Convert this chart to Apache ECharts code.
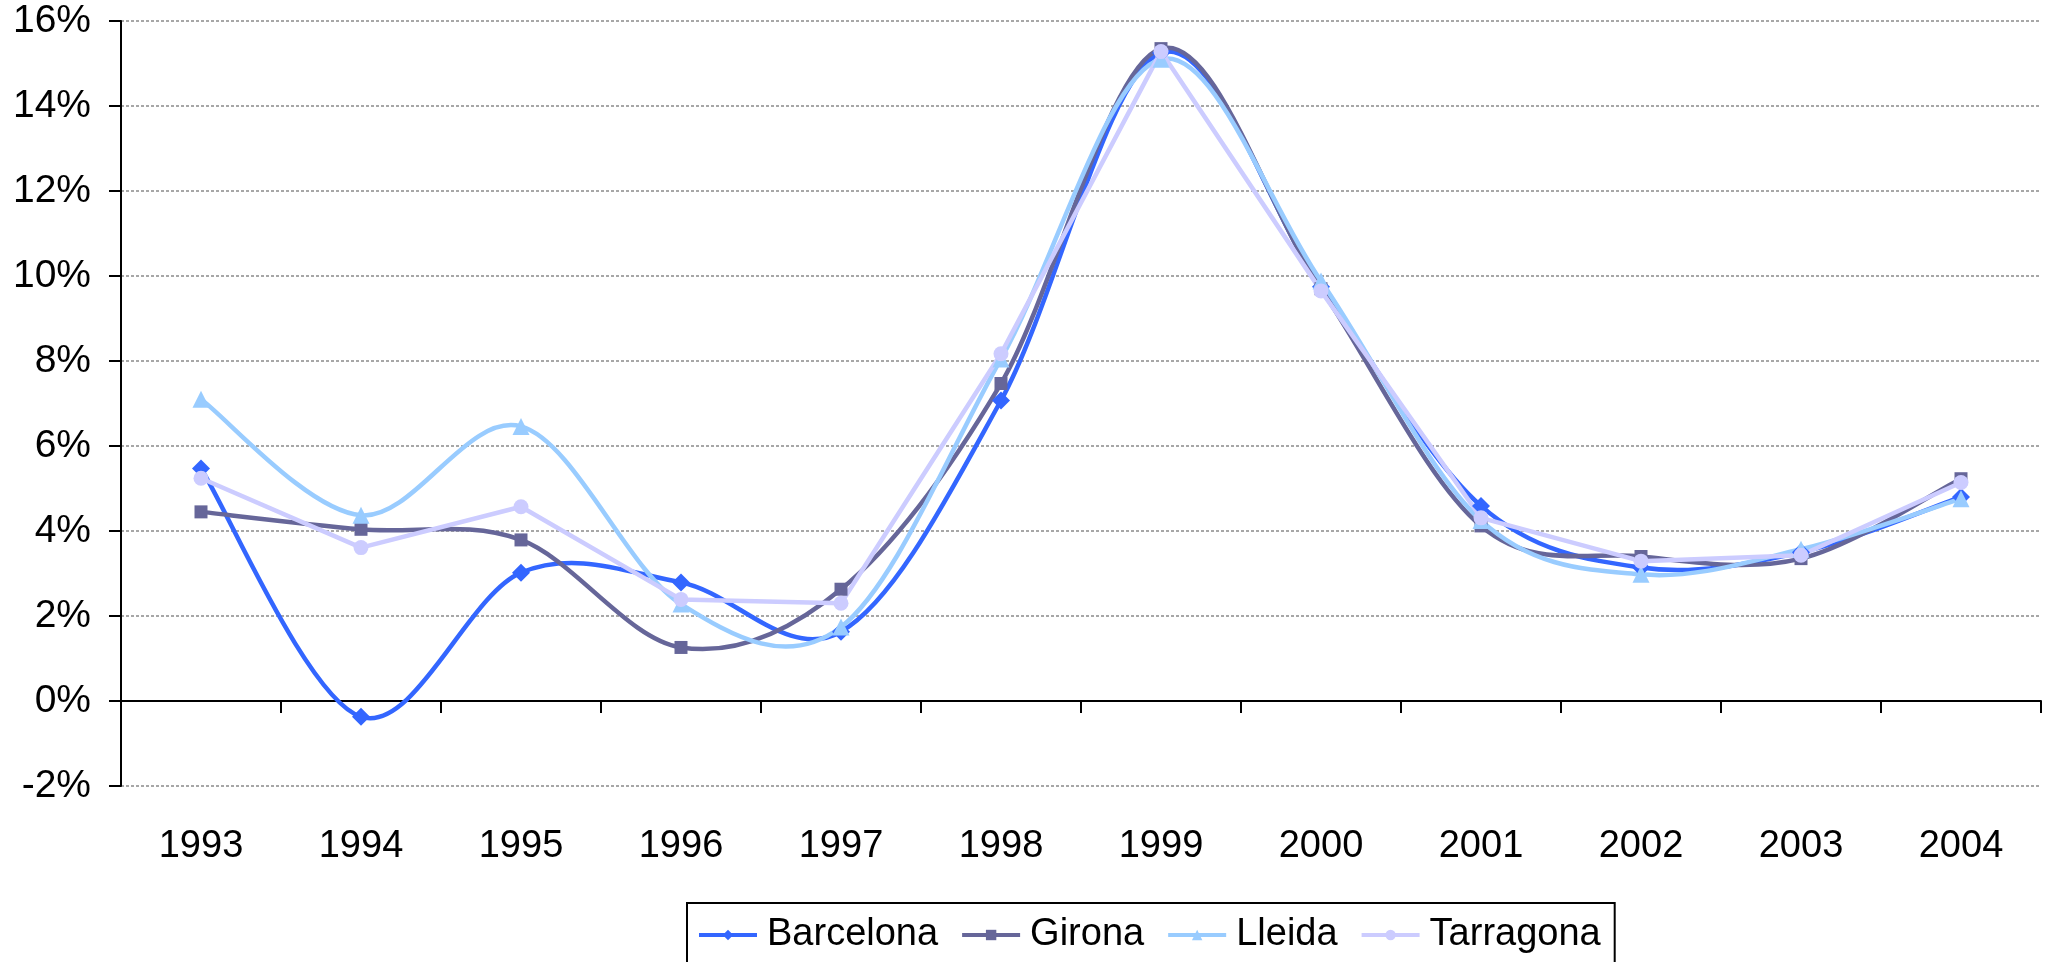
<!DOCTYPE html>
<html>
<head>
<meta charset="utf-8">
<script src="https://cdn.jsdelivr.net/npm/echarts@6/dist/echarts.min.js"></script>
<style>
html,body{margin:0;padding:0;background:#fff;}
#c{width:2045px;height:962px;}
</style>
</head>
<body>
<div id="c"></div>
<script>
var years = ['1993','1994','1995','1996','1997','1998','1999','2000','2001','2002','2003','2004'];
var barcelona = [5.47, -0.37, 3.02, 2.79, 1.63, 7.07, 15.25, 9.75, 4.59, 3.14, 3.50, 4.80];
var girona    = [4.45, 4.04, 3.79, 1.26, 2.63, 7.47, 15.35, 9.70, 4.12, 3.40, 3.35, 5.23];
var lleida    = [7.10, 4.37, 6.46, 2.28, 1.74, 8.05, 15.10, 9.88, 4.25, 2.98, 3.57, 4.76];
var tarragona = [5.24, 3.61, 4.57, 2.39, 2.30, 8.17, 15.28, 9.65, 4.31, 3.29, 3.43, 5.14];
var yTicks = {min: -2, max: 16, step: 2};

var FONT = "'Liberation Sans', Arial, sans-serif";
var LW = 4.5;
var chart = echarts.init(document.getElementById('c'), null, {renderer: 'canvas'});

function pairs(vals) { return vals.map(function (v, i) { return [i, v]; }); }

// Excel-style smoothed line (Catmull-Rom Bezier) drawn through the axis scales
function smoothLine(id, vals, color) {
  return {
    name: id, type: 'custom', data: pairs(vals), xAxisIndex: 0, silent: true,
    renderItem: function (params, api) {
      if (params.dataIndex !== 0) return null;
      var p = vals.map(function (v, i) { return api.coord([i, v]); });
      var n = p.length;
      var d = 'M' + p[0][0] + ' ' + p[0][1];
      for (var i = 0; i < n - 1; i++) {
        var p0 = p[Math.max(i - 1, 0)], p1 = p[i], p2 = p[i + 1], p3 = p[Math.min(i + 2, n - 1)];
        var c1x = p1[0] + (p2[0] - p0[0]) / 6, c1y = p1[1] + (p2[1] - p0[1]) / 6;
        var c2x = p2[0] - (p3[0] - p1[0]) / 6, c2y = p2[1] - (p3[1] - p1[1]) / 6;
        d += ' C' + c1x + ' ' + c1y + ' ' + c2x + ' ' + c2y + ' ' + p2[0] + ' ' + p2[1];
      }
      return {
        type: 'path',
        shape: {pathData: d},
        style: {fill: 'none', stroke: color, lineWidth: LW, lineJoin: 'round', lineCap: 'round'}
      };
    },
    animation: false
  };
}

function markers(name, vals, color, symbol, size, showLine) {
  return {
    name: name, type: 'line', data: vals, xAxisIndex: 0,
    symbol: symbol, symbolSize: size, showSymbol: true,
    lineStyle: {color: color, width: showLine ? LW : 0, opacity: showLine ? 1 : 0},
    itemStyle: {color: color},
    animation: false
  };
}

chart.setOption({
  animation: false,
  textStyle: {fontFamily: FONT},
  grid: {left: 121, right: 4, top: 21, bottom: 176, containLabel: false},
  legend: {
    left: 687, top: 903,
    padding: [12, 14, 20, 10],
    borderColor: '#000', borderWidth: 2,
    itemWidth: 58, itemHeight: 13, itemGap: 22,
    textStyle: {fontSize: 38, lineHeight: 40, color: '#000', fontFamily: FONT, padding: [0, 0, 0, 5]},
    data: [
      {name: 'Barcelona', lineStyle: {width: 4, opacity: 1, color: '#3366FF'}},
      {name: 'Girona', lineStyle: {width: 4, opacity: 1, color: '#666699'}},
      {name: 'Lleida', lineStyle: {width: 4, opacity: 1, color: '#99CCFF'}},
      {name: 'Tarragona', lineStyle: {width: 4, opacity: 1, color: '#CCCCFF'}}
    ]
  },
  xAxis: [
    {
      type: 'category', data: years, boundaryGap: true,
      axisLine: {onZero: true, lineStyle: {color: '#000', width: 2}},
      axisTick: {show: true, interval: 0, length: 12, lineStyle: {color: '#000', width: 2}},
      axisLabel: {show: false},
      splitLine: {show: false}
    },
    {
      type: 'category', data: years, boundaryGap: true, position: 'bottom',
      axisLine: {show: false}, axisTick: {show: false},
      axisLabel: {show: true, interval: 0, margin: 42, fontSize: 38, color: '#000', fontFamily: FONT},
      splitLine: {show: false}
    }
  ],
  yAxis: {
    type: 'value', min: yTicks.min, max: yTicks.max, interval: yTicks.step,
    axisLine: {show: true, onZero: false, lineStyle: {color: '#000', width: 2}},
    axisTick: {show: true, length: 12, lineStyle: {color: '#000', width: 2}},
    axisLabel: {formatter: '{value}%', fontSize: 39, color: '#000', margin: 30, fontFamily: FONT},
    splitLine: {show: true, lineStyle: {color: '#8a8a8a', width: 1.5, type: [3, 2]}}
  },
  series: [
    smoothLine('_b', barcelona, '#3366FF'),
    markers('Barcelona', barcelona, '#3366FF', 'diamond', 18, false),
    smoothLine('_g', girona, '#666699'),
    markers('Girona', girona, '#666699', 'rect', 13, false),
    smoothLine('_l', lleida, '#99CCFF'),
    markers('Lleida', lleida, '#99CCFF', 'triangle', 17, false),
    markers('Tarragona', tarragona, '#CCCCFF', 'circle', 15, true)
  ]
});
</script>
</body>
</html>
